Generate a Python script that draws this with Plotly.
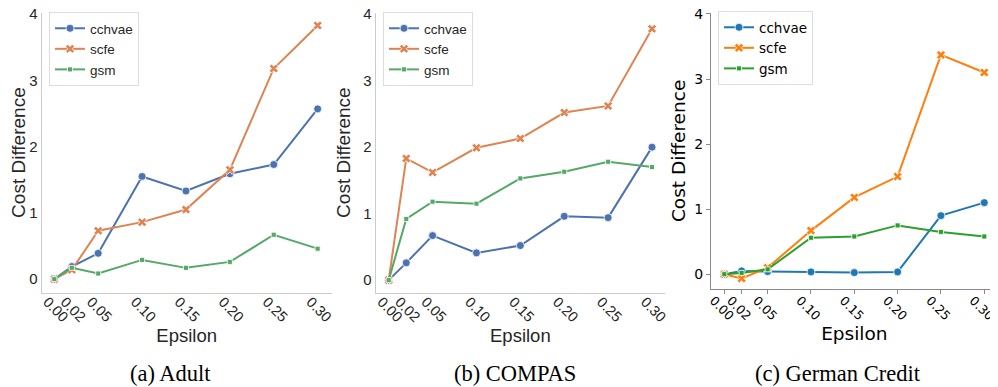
import plotly.graph_objects as go

epsilon = [0.00, 0.02, 0.05, 0.10, 0.15, 0.20, 0.25, 0.30]
tick_labels = ["0.00", "0.02", "0.05", "0.10", "0.15", "0.20", "0.25", "0.30"]
methods = ["cchvae", "scfe", "gsm"]

adult_cchvae = [0.0, 0.19, 0.39, 1.55, 1.33, 1.59, 1.73, 2.57]
adult_scfe = [0.0, 0.14, 0.73, 0.86, 1.05, 1.65, 3.18, 3.83]
adult_gsm = [0.0, 0.17, 0.085, 0.29, 0.17, 0.26, 0.67, 0.46]

compas_cchvae = [0.0, 0.26, 0.67, 0.41, 0.52, 0.96, 0.94, 2.0]
compas_scfe = [0.0, 1.83, 1.62, 1.99, 2.13, 2.52, 2.62, 3.78]
compas_gsm = [0.0, 0.92, 1.18, 1.15, 1.53, 1.63, 1.78, 1.70]

german_cchvae = [0.0, 0.05, 0.04, 0.035, 0.025, 0.035, 0.90, 1.10]
german_scfe = [0.0, -0.065, 0.10, 0.67, 1.18, 1.50, 3.37, 3.10]
german_gsm = [0.0, 0.02, 0.075, 0.56, 0.58, 0.75, 0.65, 0.58]

captions = ["(a) Adult", "(b) COMPAS", "(c) German Credit"]

# the page body adds an 8px offset; figure coordinates = window coordinates - 8
OFF = 8
W, H = 990, 379
deep = ["#4c72b0", "#dd8452", "#55a868"]
tab = ["#1f77b4", "#ff7f0e", "#2ca02c"]
symbols = ["circle", "x", "square"]
msizes = [8, 8, 5]

panels = [
    dict(data=[adult_cchvae, adult_scfe, adult_gsm], colors=deep, font="Liberation Sans, Arial, sans-serif",
         px=(41.7, 331.7), py=(12.5, 292.7), xr=[-0.01435, 0.3160], yr=[-0.205, 4.025], seaborn=True,
         leg=(49, 12), cap=170.5, xtick=14.5, ystand=7, shift=-7),
    dict(data=[compas_cchvae, compas_scfe, compas_gsm], colors=deep, font="Liberation Sans, Arial, sans-serif",
         px=(375.7, 665), py=(12.5, 292.7), xr=[-0.0148, 0.3148], yr=[-0.189, 4.025], seaborn=True,
         leg=(383, 12), cap=514.5, xtick=14.5, ystand=7, shift=-7),
    dict(data=[german_cchvae, german_scfe, german_gsm], colors=tab, font="DejaVu Sans, sans-serif",
         px=(711, 997.7), py=(12.5, 289.3), xr=[-0.01535, 0.3155], yr=[-0.232, 4.022], seaborn=False,
         leg=(718, 11), cap=838, xtick=12.5, ystand=3, shift=-11),
]

fig = go.Figure()
layout = dict(width=W, height=H, margin=dict(l=0, r=0, t=0, b=0, autoexpand=False),
              paper_bgcolor="white", plot_bgcolor="white", showlegend=True)
annotations = []

for i, p in enumerate(panels):
    sfx = "" if i == 0 else str(i + 1)
    legname = "legend" + sfx
    for j, m in enumerate(methods):
        fig.add_trace(go.Scatter(
            x=epsilon, y=p["data"][j], name=m, mode="lines+markers",
            xaxis="x" + sfx, yaxis="y" + sfx, legend=legname,
            line=dict(color=p["colors"][j], width=2),
            marker=dict(symbol=symbols[j], size=msizes[j], color=p["colors"][j],
                        line=dict(color="white", width=0.8)),
        ))
    txtcol = "#262626" if p["seaborn"] else "black"
    linecol = "#cccccc" if p["seaborn"] else "#8a8a8a"
    x0, x1 = p["px"][0] - OFF, p["px"][1] - OFF
    y0, y1 = p["py"][0] - OFF, p["py"][1] - OFF
    xd = [x0 / W, min(x1 / W, 1.0)]
    yd = [1 - y1 / H, 1 - y0 / H]
    layout["xaxis" + sfx] = dict(
        domain=xd, range=p["xr"], anchor="y" + sfx, automargin=False,
        tickmode="array", tickvals=epsilon, ticktext=tick_labels, tickangle=45,
        ticklabelshift=p["shift"], ticklabelstandoff=-6, ticklabeloverflow="allow",
        showgrid=False, zeroline=False, showline=True, linecolor=linecol, linewidth=1.2,
        ticks="" if p["seaborn"] else "outside", ticklen=4, tickcolor=linecol,
        tickfont=dict(family=p["font"], size=p["xtick"], color=txtcol),
        title=dict(text="Epsilon", font=dict(family=p["font"], size=18.5, color=txtcol), standoff=2),
    )
    layout["yaxis" + sfx] = dict(
        domain=yd, range=p["yr"], anchor="x" + sfx, automargin=False,
        tickmode="array", tickvals=[0, 1, 2, 3, 4], ticklabeloverflow="allow",
        showgrid=False, zeroline=False, showline=True, linecolor=linecol, linewidth=1.2,
        ticks="" if p["seaborn"] else "outside", ticklen=4, tickcolor=linecol,
        tickfont=dict(family=p["font"], size=15 if p["seaborn"] else 14, color=txtcol),
        title=dict(text="Cost Difference", font=dict(family=p["font"], size=19 if p["seaborn"] else 18.5, color=txtcol),
                   standoff=p["ystand"]),
    )
    layout[legname] = dict(
        x=(p["leg"][0] - OFF) / W, y=1 - (p["leg"][1] - OFF) / H, xanchor="left", yanchor="top",
        bgcolor="white", bordercolor="#dddddd", borderwidth=1, itemwidth=30,
        font=dict(family=p["font"], size=13.5, color=txtcol),
        tracegroupgap=0,
    )
    annotations.append(dict(
        text=captions[i], x=(p["cap"] - OFF) / W, y=1 - (373 - OFF) / H, xref="paper", yref="paper",
        xanchor="center", yanchor="middle", showarrow=False,
        font=dict(family="Liberation Serif, Times New Roman, serif", size=22.5, color="black"),
    ))

layout["annotations"] = annotations
fig.update_layout(**layout)
fig.write_html("out.html")
